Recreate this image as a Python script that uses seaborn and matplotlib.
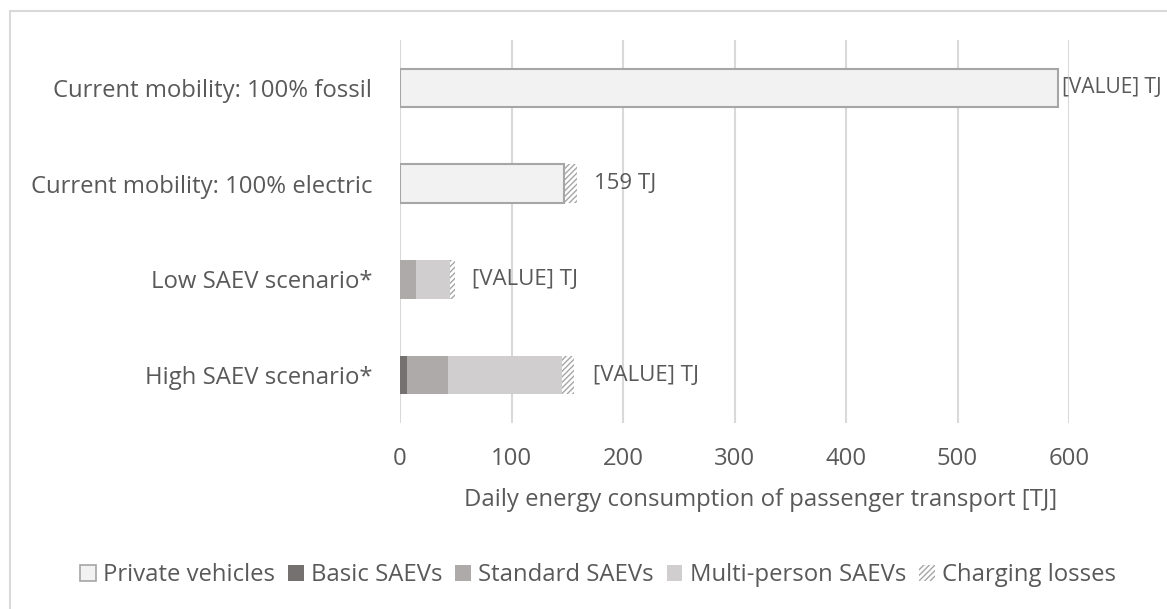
import numpy as np
import pandas as pd
import seaborn as sns
import matplotlib.pyplot as plt
from matplotlib.patches import Patch, Rectangle

sns.set_theme(style="white")
plt.rcParams['font.family'] = ['Open Sans', 'DejaVu Sans']
plt.rcParams['hatch.linewidth'] = 1.0

# data
scenarios = ["Current mobility: 100% fossil", "Current mobility: 100% electric",
             "Low SAEV scenario*", "High SAEV scenario*"]
private = [590, 147, 0, 0]
basic = [0, 0, 0, 6]
standard = [0, 0, 14, 37]
multi = [0, 0, 31, 102]
charging = [0, 12, 4, 11]
bar_labels = ["[VALUE] TJ", "159 TJ", "[VALUE] TJ", "[VALUE] TJ"]
label_gap = [4, 17, 17, 19]

series = ["Private vehicles", "Basic SAEVs", "Standard SAEVs", "Multi-person SAEVs", "Charging losses"]
df = pd.DataFrame({"scenario": scenarios, series[0]: private, series[1]: basic,
                   series[2]: standard, series[3]: multi, series[4]: charging})
cum = df[series].cumsum(axis=1)

txt = "#595959"
fs = 17.2
fills = {"Private vehicles": "#f2f2f2", "Basic SAEVs": "#767171",
         "Standard SAEVs": "#aeaaaa", "Multi-person SAEVs": "#d0cece",
         "Charging losses": "white"}

fig = plt.figure(figsize=(11.67, 6.09), dpi=100)
ax = fig.add_axes([400 / 1167, 1 - 423 / 609, 669 / 1167, 383 / 609])

# draw cumulative totals back to front so the segments stack
for s in reversed(series):
    d = pd.DataFrame({"scenario": scenarios, "v": cum[s].values})
    n0 = len(ax.patches)
    sns.barplot(data=d, x="v", y="scenario", orient="h", color=fills[s],
                width=0.4, ax=ax, saturation=1)
    for p in ax.patches[n0:]:
        p.set_facecolor(fills[s])
        if s == "Charging losses":
            p.set_hatch("//////")
            p.set_edgecolor("#a6a6a6")
            p.set_linewidth(0)
        elif s == "Private vehicles":
            p.set_edgecolor("#a6a6a6")
            p.set_linewidth(1.5)
        else:
            p.set_linewidth(0)

# hide the private outline on rows without private vehicles
for p, v in zip(ax.patches[-4:], private):
    if v == 0:
        p.set_visible(False)

totals = cum[series[-1]].values
for i, (t, lab, g) in enumerate(zip(totals, bar_labels, label_gap)):
    # the long fossil bar leaves little room, so its label is a bit smaller
    size = 15 if i == 0 else 16
    ax.annotate(lab, (t, i), xytext=(g, 0), textcoords="offset pixels",
                va="center", ha="left", fontsize=size, color=txt,
                annotation_clip=False)

ax.set_xlim(0, 600)
ax.set_xticks(range(0, 601, 100))
ax.xaxis.grid(True, color="#d9d9d9", lw=1.5)
ax.yaxis.grid(False)
ax.set_axisbelow(True)
sns.despine(ax=ax, left=True, bottom=True)
ax.tick_params(axis="x", length=0, pad=17, labelsize=fs, labelcolor=txt)
ax.tick_params(axis="y", length=0, pad=20, labelsize=fs, labelcolor=txt)
ax.set_ylabel("")
ax.set_xlabel("Daily energy consumption of passenger transport [TJ]",
              fontsize=fs, color=txt, va="center")
ax.xaxis.set_label_coords((761 - 400) / 669, (423 - 500) / 383)

handles = [Patch(facecolor=fills[s], edgecolor="#a6a6a6" if s in ("Private vehicles", "Charging losses") else fills[s],
                 linewidth=1.2 if s == "Private vehicles" else 0,
                 hatch="//////" if s == "Charging losses" else None, label=s)
           for s in series]
fig.legend(handles=handles, loc="center", bbox_to_anchor=(598 / 1167, 1 - 575 / 609),
           ncol=5, frameon=False, fontsize=fs, labelcolor=txt,
           handlelength=0.65, handleheight=0.65, handletextpad=0.3, columnspacing=0.55)

# chart area border (only top/left visible in the crop)
fig.add_artist(Rectangle((10 / 1167, -0.1), 1.2, 1.1 - 11 / 609, transform=fig.transFigure,
                         fill=False, edgecolor="#d9d9d9", lw=1.5))

fig.savefig("out.png", dpi=100)
